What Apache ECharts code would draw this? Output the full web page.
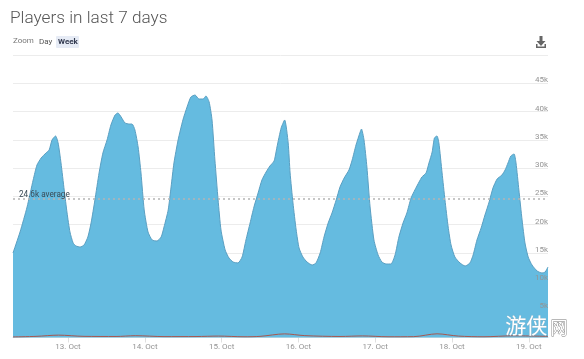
<!DOCTYPE html>
<html><head><meta charset="utf-8">
<style>html,body{margin:0;padding:0;background:#fff}#c{width:584px;height:359px}</style>
<script src="https://cdn.jsdelivr.net/npm/echarts@6/dist/echarts.min.js"></script>
</head><body><div id="c"></div>
<script>
const titleText = 'Players in last 7 days';
const averageValue = 24600;
const averageLabel = '24.6k average';
const monthLabel = 'Oct';
// hours relative to 13 Oct 00:00
const hours = [-17.2,-15,-12.8,-10.9,-9.7,-8.4,-6.9,-5.9,-5,-3.9,-3.1,-2.2,-1.2,-0.3,0.6,1.6,2.5,3.8,5,6.2,7.2,8.4,9.7,10.9,12.2,13.4,14.7,15.6,16.6,17.8,19.1,20,20.9,21.9,22.8,23.8,25,26.3,27.8,29.1,30,31.3,32.2,33.1,34.4,35.9,37.2,38.4,39.7,40.9,42.2,43.1,44.1,45,45.9,46.9,47.8,49.1,50.3,51.6,53.1,54.4,55.6,56.9,58.1,59.4,60.6,61.9,63.1,64.4,65.3,66.6,67.7,68.8,69.4,70.3,71.3,72.2,73.4,74.7,76.3,77.5,78.8,80,81.3,82.5,83.8,85,86.3,87.8,88.8,90,91.3,91.7,92.5,93.4,94.4,95.6,96.9,98.1,99.4,100.9,102.2,103.4,104.7,105.9,107.2,108.4,109.7,110.6,111.9,112.8,113.8,114.5,115.3,115.9,116.9,117.8,118.8,119.7,120.9,122.5,124.1,125.6,126.6,127.8,129.1,130.3,131.6,132.8,134.1,135.6,136.6,137.5,138.4,139.4,140,140.9,141.9,142.8,143.8,145,146.6,148.1,149.1,150];
const players = [14960,18670,23100,27880,30530,31770,32660,33190,34960,35670,34430,30890,26110,22040,18670,16730,16200,16020,16370,17790,20270,24340,29120,32660,34960,37610,39380,39740,39030,37970,37790,37790,36730,33720,29120,22570,18670,17260,17080,17790,19560,22570,26640,30890,34960,38500,40800,42570,42920,42210,42210,42750,41680,38500,31420,24340,19030,15490,14070,13360,13190,14250,17260,20270,23100,25580,27880,29290,30360,31240,33720,37080,38500,34430,29120,23810,19030,15840,14250,13360,12830,13190,14960,17790,20270,22040,24340,26640,28230,29650,31420,34070,36370,36900,34960,30180,23100,17260,14600,13360,13010,13010,14600,17790,20270,22040,24690,26110,27520,28410,29120,30890,32830,35310,35670,34430,29120,24340,19560,16370,14250,13190,12660,13190,14600,17260,19380,21680,23980,26460,28050,28760,29650,30890,32130,32480,30890,26110,20800,16730,14250,12830,11770,11420,11590,12480];
const peakHours = [-17.2,-10,-3,5,15,21,30,40,47,55,60,67.7,74,85,92,100,108,115.3,122,130,139,150];
const peakPlayers = [100,200,420,200,180,320,160,170,250,130,200,640,330,180,280,130,150,650,250,130,300,200];

const base = Date.UTC(2018, 9, 13);
const toTime = h => base + h * 3600e3;
const pairs = (xs, ys) => xs.map((h, i) => [toTime(h), ys[i]]);
const hiddenTicks = v => (v === 0 || v === 50000) ? '' : (v / 1000) + 'k';

const chart = echarts.init(document.getElementById('c'), null, {renderer: 'canvas'});
const yBase = {type: 'value', position: 'right', min: 0, max: 50000, interval: 5000, axisLine: {show: false}, axisTick: {show: false}};
chart.setOption({
  animation: false,
  useUTC: true,
  backgroundColor: '#fff',
  title: {text: titleText, left: 5, top: 5, textStyle: {fontFamily: 'Roboto', fontWeight: 300, fontSize: 17.2, color: '#555'}},
  grid: {left: 13, right: 36, top: 55, bottom: 21.5},
  xAxis: {
    type: 'time', min: toTime(-17.2), max: toTime(150), boundaryGap: false,
    axisLine: {show: true, lineStyle: {color: '#e6e6e6', width: 1}},
    axisTick: {show: true, length: 5, lineStyle: {color: '#e0e0e0'}},
    splitLine: {show: false}, minorTick: {show: false},
    axisLabel: {
      showMinLabel: false, showMaxLabel: false, hideOverlap: false, margin: 5,
      fontFamily: 'Roboto', fontSize: 8, color: '#949494',
      formatter: v => new Date(v).getUTCDate() + '. ' + monthLabel
    }
  },
  yAxis: [
    Object.assign({}, yBase, {z: 0, axisLabel: {show: false}, splitLine: {show: true, lineStyle: {color: '#ececec', width: 1}}}),
    Object.assign({}, yBase, {z: 5, splitLine: {show: false}, axisLabel: {inside: true, margin: 0, verticalAlign: 'bottom', align: 'right', fontFamily: 'Roboto', fontSize: 8, color: '#949494', lineHeight: 6, formatter: hiddenTicks}})
  ],
  series: [
    {
      type: 'line', name: 'Players', data: pairs(hours, players), showSymbol: false, smooth: 0.2,
      lineStyle: {color: '#5a9fc2', width: 1},
      areaStyle: {color: '#65bbe0', opacity: 1},
      markLine: {
        silent: true, symbol: 'none', animation: false,
        lineStyle: {type: [2, 3], color: '#b4b4b4', width: 1.5},
        label: {position: 'insideStartTop', formatter: averageLabel, fontFamily: 'Roboto', fontSize: 8.2, color: '#3a4a55', distance: [6, 0]},
        data: [{yAxis: averageValue}]
      }
    },
    {
      type: 'line', name: 'Peak', data: pairs(peakHours, peakPlayers), showSymbol: false, smooth: 0.3,
      lineStyle: {color: '#a8574e', width: 1}
    }
  ],
  graphic: [
    {type: 'text', left: 13, top: 37, style: {text: 'Zoom', font: '8px Roboto', fill: '#777'}},
    {type: 'text', left: 39, top: 37.5, style: {text: 'Day', font: '8px Roboto', fill: '#555'}},
    {type: 'rect', left: 56, top: 36, shape: {width: 23, height: 12, r: 1}, style: {fill: '#e6ebf5'}},
    {type: 'text', left: 58, top: 37.5, style: {text: 'Week', font: 'bold 8px Roboto', fill: '#333a50'}},
    {type: 'polygon', shape: {points: [[539.5,36],[542.5,36],[542.5,41],[545.5,41],[541,46],[536.5,41],[539.5,41]]}, style: {fill: '#666'}},
    {type: 'polygon', shape: {points: [[536,44],[537.5,44],[537.5,46.5],[544.5,46.5],[544.5,44],[546,44],[546,48],[536,48]]}, style: {fill: '#666'}},
    {type: 'text', left: 505, top: 314, z: 50, style: {text: '游侠', font: '21px "Noto Sans CJK SC"', fill: '#fff', stroke: '#9fb0bb', lineWidth: 0.4}},
    {type: 'text', left: 550, top: 319, z: 50, style: {text: '网', font: '17px "Noto Sans CJK SC"', fill: '#fff', stroke: '#777', lineWidth: 0.8}}
  ]
});
</script></body></html>
